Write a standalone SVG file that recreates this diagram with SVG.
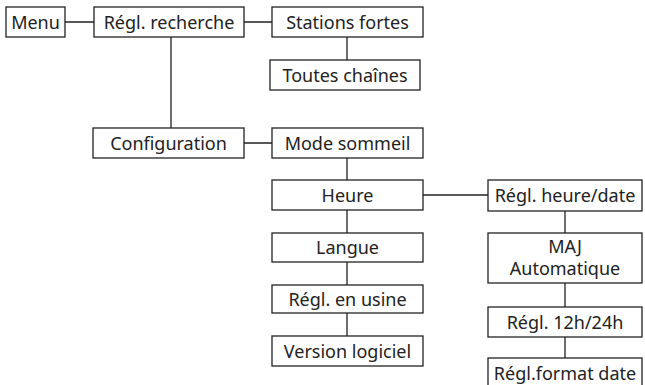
<svg xmlns="http://www.w3.org/2000/svg" width="645" height="385" viewBox="0 0 645 385">
<style>
.b{fill:#fff;stroke:#222;stroke-width:1.3}
.t{font-family:"Noto Sans","Liberation Sans",sans-serif;font-size:18px;fill:#222;text-anchor:middle}
.c{stroke:#222;stroke-width:1.3;fill:none}
</style>
<rect width="645" height="385" fill="#fff"/>
<g id="connectors">
<path class="c" d="M65 22H94M244 22H272M171 37V128M347 37V60M244 143H272M347 158V180M347 210V233M347 262V285M347 313V336M423 195H488M565 211V233M565 283V307M565 337V358"/>
</g>
<g id="menu"><rect class="b" x="6" y="7" width="59" height="30"/><text class="t" x="35.5" y="28.5">Menu</text></g>
<g id="regl-recherche"><rect class="b" x="94" y="7" width="150" height="30"/><text class="t" x="169" y="28.5">Régl. recherche</text></g>
<g id="stations-fortes"><rect class="b" x="272" y="7" width="151" height="30"/><text class="t" x="347.5" y="28.5">Stations fortes</text></g>
<g id="toutes-chaines"><rect class="b" x="270" y="60" width="150" height="30"/><text class="t" x="345" y="81.5">Toutes chaînes</text></g>
<g id="configuration"><rect class="b" x="93" y="128" width="151" height="30"/><text class="t" x="168.5" y="149.5">Configuration</text></g>
<g id="mode-sommeil"><rect class="b" x="272" y="128" width="151" height="30"/><text class="t" x="347.5" y="149.5">Mode sommeil</text></g>
<g id="heure"><rect class="b" x="272" y="180" width="151" height="30"/><text class="t" x="347.5" y="201.5">Heure</text></g>
<g id="langue"><rect class="b" x="272" y="233" width="151" height="29"/><text class="t" x="347.5" y="254">Langue</text></g>
<g id="regl-usine"><rect class="b" x="272" y="285" width="151" height="28"/><text class="t" x="347.5" y="305.5">Régl. en usine</text></g>
<g id="version"><rect class="b" x="272" y="336" width="151" height="30"/><text class="t" x="347.5" y="357.5">Version logiciel</text></g>
<g id="regl-heure-date"><rect class="b" x="488" y="180" width="154" height="31"/><text class="t" x="565" y="202">Régl. heure/date</text></g>
<g id="maj"><rect class="b" x="488" y="233" width="154" height="50"/><text class="t" x="565" y="252.5">MAJ</text><text class="t" x="565" y="275">Automatique</text></g>
<g id="regl-12-24"><rect class="b" x="488" y="307" width="154" height="30"/><text class="t" x="565" y="328.5">Régl. 12h/24h</text></g>
<g id="regl-format-date"><rect class="b" x="488" y="358" width="154" height="35"/><text class="t" x="565" y="379.5">Régl.format date</text></g>
</svg>
